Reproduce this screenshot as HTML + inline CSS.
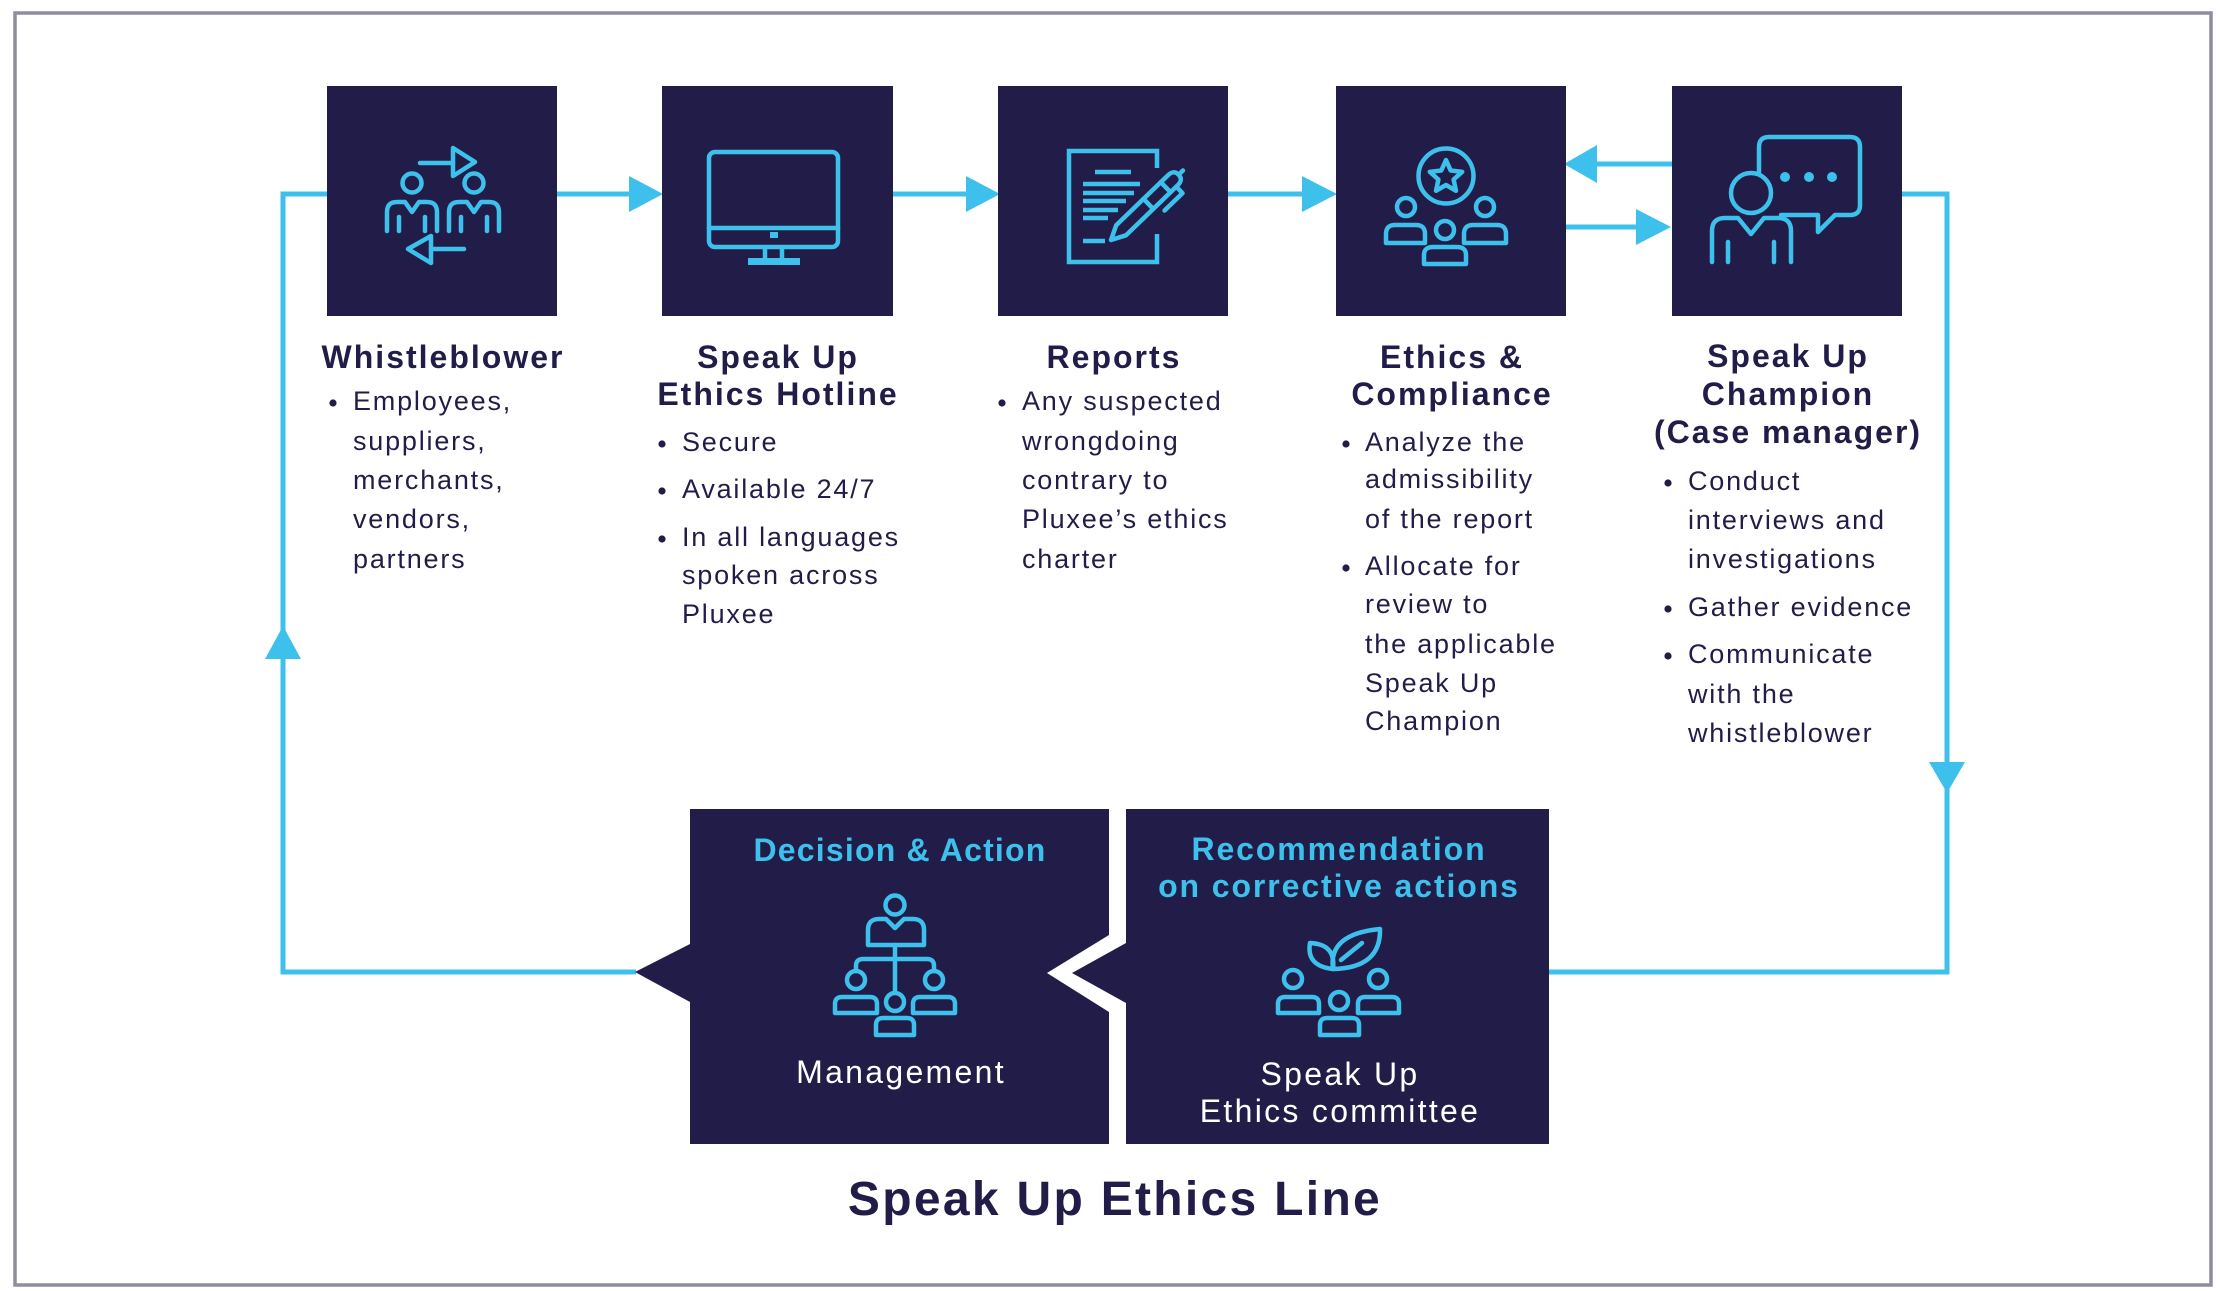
<!DOCTYPE html>
<html><head><meta charset="utf-8">
<style>
html,body{margin:0;padding:0;background:#fff;}
svg{display:block;}
text{font-family:"Liberation Sans",sans-serif;}
.h{font-weight:bold;font-size:32px;fill:#221d48;letter-spacing:2px;text-anchor:middle;}
.b{font-size:27px;fill:#221d48;letter-spacing:1.8px;}
.ic{fill:none;stroke:#3dc0ec;stroke-width:4.5;stroke-linecap:round;stroke-linejoin:round;}
.ln{fill:none;stroke:#3dc0ec;stroke-width:5;}
.ah{fill:#3dc0ec;}
.bx{fill:#221d48;}
.dot{fill:#221d48;}
.hc{font-weight:bold;font-size:32px;fill:#3dc0ec;text-anchor:middle;}
.w{font-size:32px;fill:#ffffff;letter-spacing:2.3px;text-anchor:middle;}
</style></head><body>
<svg width="2220" height="1291" viewBox="0 0 2220 1291" xmlns="http://www.w3.org/2000/svg">
<rect x="15" y="13" width="2196" height="1272" fill="#fff" stroke="#8f8d9d" stroke-width="3.5"/>

<!-- connectors -->
<polyline class="ln" points="636,972 283,972 283,194 329,194"/>
<polygon class="ah" points="265,659 301,659 283,626"/>
<polyline class="ln" points="1899,194 1947,194 1947,972 1547,972"/>
<polygon class="ah" points="1929,762 1965,762 1947,793"/>
<line class="ln" x1="555" y1="194" x2="632" y2="194"/>
<polygon class="ah" points="629,176 629,212 663,194"/>
<line class="ln" x1="891" y1="194" x2="968" y2="194"/>
<polygon class="ah" points="966,176 966,212 1000,194"/>
<line class="ln" x1="1226" y1="194" x2="1305" y2="194"/>
<polygon class="ah" points="1302,176 1302,212 1337,194"/>
<line class="ln" x1="1674" y1="164" x2="1594" y2="164"/>
<polygon class="ah" points="1597,145 1597,183 1564,164"/>
<line class="ln" x1="1564" y1="227" x2="1638" y2="227"/>
<polygon class="ah" points="1636,209 1636,245 1671,227"/>

<!-- top boxes -->
<rect class="bx" x="327" y="86" width="230" height="230"/>
<rect class="bx" x="662" y="86" width="231" height="230"/>
<rect class="bx" x="998" y="86" width="230" height="230"/>
<rect class="bx" x="1336" y="86" width="230" height="230"/>
<rect class="bx" x="1672" y="86" width="230" height="230"/>

<!-- icon 1: whistleblower -->
<g transform="translate(327,86)" class="ic">
  <line x1="93" y1="77" x2="126" y2="77"/>
  <path d="M126,62 L148,76 L126,90 Z"/>
  <line x1="137" y1="163" x2="104" y2="163"/>
  <path d="M104,150 L81,163 L104,177 Z"/>
  <circle cx="85" cy="97" r="9.5"/>
  <path d="M60,145 V126 Q60,116 70,116 H78 L85,126 L92,116 H100 Q110,116 110,126 V145"/>
  <line x1="72" y1="131" x2="72" y2="145"/>
  <line x1="98" y1="131" x2="98" y2="145"/>
  <circle cx="147" cy="97" r="9.5"/>
  <path d="M122,145 V126 Q122,116 132,116 H140 L147,126 L154,116 H162 Q172,116 172,126 V145"/>
  <line x1="134" y1="131" x2="134" y2="145"/>
  <line x1="160" y1="131" x2="160" y2="145"/>
</g>

<!-- icon 2: monitor -->
<g transform="translate(662,86)">
  <rect class="ic" x="47" y="66" width="129" height="95" rx="6"/>
  <line class="ic" x1="47" y1="142" x2="176" y2="142"/>
  <rect x="108" y="146" width="8" height="6" fill="#3dc0ec"/>
  <line class="ic" x1="103" y1="161" x2="103" y2="174" style="stroke-linecap:butt"/>
  <line class="ic" x1="120" y1="161" x2="120" y2="174" style="stroke-linecap:butt"/>
  <rect x="86" y="172" width="52" height="7" fill="#3dc0ec"/>
</g>

<!-- icon 3: report -->
<g transform="translate(998,86)">
  <path class="ic" d="M159,82 V65 H71 V176 H159 V148" style="stroke-linecap:butt;stroke-linejoin:miter"/>
  <g stroke="#3dc0ec" stroke-width="4.5">
    <line x1="97" y1="86" x2="133" y2="86"/>
    <line x1="85" y1="98" x2="142" y2="98"/>
    <line x1="85" y1="107" x2="136" y2="107"/>
    <line x1="85" y1="115" x2="128" y2="115"/>
    <line x1="85" y1="124" x2="120" y2="124"/>
    <line x1="85" y1="132" x2="110" y2="132"/>
    <line x1="85" y1="155" x2="107" y2="155"/>
  </g>
  <g transform="translate(113,154) rotate(-44)" class="ic">
    <path d="M0,0 L14,-7 H86 Q94,-7 94,0 Q94,7 86,7 H14 Z"/>
    <line x1="52" y1="-7" x2="52" y2="7"/>
    <line x1="76" y1="-7" x2="76" y2="7"/>
    <path d="M59,16 H84 V7"/>
    <line x1="94" y1="0" x2="100" y2="0"/>
  </g>
</g>

<!-- icon 4: ethics & compliance -->
<g transform="translate(1336,86)" class="ic">
  <circle cx="110" cy="90" r="27.5"/>
  <path d="M110,74 L114.7,84.5 L126.2,85.8 L117.6,93.5 L120,104.8 L110,99 L100,104.8 L102.4,93.5 L93.8,85.8 L105.3,84.5 Z"/>
  <circle cx="70" cy="121" r="9"/>
  <path d="M50,157 V148 Q50,139 59,139 H80 Q89,139 89,148 V157 Z"/>
  <circle cx="149" cy="121" r="9"/>
  <path d="M128,157 V148 Q128,139 137,139 H161 Q170,139 170,148 V157 Z"/>
  <circle cx="109" cy="144" r="9"/>
  <path d="M88,178 V169 Q88,161 97,161 H121 Q130,161 130,169 V178 Z"/>
</g>

<!-- icon 5: champion -->
<g transform="translate(1672,86)">
  <path class="ic" d="M87,87 V61 Q87,51 97,51 H178 Q188,51 188,61 V119 Q188,129 178,129 H163 L146,146 V129 H109"/>
  <circle cx="113" cy="91" r="5" fill="#3dc0ec"/>
  <circle cx="137" cy="91" r="5" fill="#3dc0ec"/>
  <circle cx="160" cy="91" r="5" fill="#3dc0ec"/>
  <circle class="ic" cx="79" cy="107" r="20"/>
  <path class="ic" d="M40,176 V145 Q40,132 53,132 H66 L79,148 L92,132 H106 Q119,132 119,145 V176"/>
  <line class="ic" x1="56" y1="156" x2="56" y2="176"/>
  <line class="ic" x1="102" y1="156" x2="102" y2="176"/>
</g>

<!-- headings -->
<text class="h" x="443" y="368">Whistleblower</text>
<text class="h" x="778" y="368">Speak Up</text>
<text class="h" x="778" y="405">Ethics Hotline</text>
<text class="h" x="1114" y="368">Reports</text>
<text class="h" x="1452" y="368">Ethics &amp;</text>
<text class="h" x="1452" y="405">Compliance</text>
<text class="h" x="1788" y="367">Speak Up</text>
<text class="h" x="1788" y="405">Champion</text>
<text class="h" x="1788" y="443">(Case manager)</text>

<!-- col1 -->
<circle class="dot" cx="333" cy="403" r="3.6"/>
<text class="b" x="353" y="410">Employees,</text>
<text class="b" x="353" y="450">suppliers,</text>
<text class="b" x="353" y="489">merchants,</text>
<text class="b" x="353" y="528">vendors,</text>
<text class="b" x="353" y="568">partners</text>

<!-- col2 -->
<circle class="dot" cx="662" cy="444" r="3.6"/>
<circle class="dot" cx="662" cy="491" r="3.6"/>
<circle class="dot" cx="662" cy="539" r="3.6"/>
<text class="b" x="682" y="451">Secure</text>
<text class="b" x="682" y="498">Available 24/7</text>
<text class="b" x="682" y="546">In all languages</text>
<text class="b" x="682" y="584">spoken across</text>
<text class="b" x="682" y="623">Pluxee</text>

<!-- col3 -->
<circle class="dot" cx="1002" cy="403" r="3.6"/>
<text class="b" x="1022" y="410">Any suspected</text>
<text class="b" x="1022" y="450">wrongdoing</text>
<text class="b" x="1022" y="489">contrary to</text>
<text class="b" x="1022" y="528">Pluxee’s ethics</text>
<text class="b" x="1022" y="568">charter</text>

<!-- col4 -->
<circle class="dot" cx="1346" cy="444" r="3.6"/>
<circle class="dot" cx="1346" cy="568" r="3.6"/>
<text class="b" x="1365" y="451">Analyze the</text>
<text class="b" x="1365" y="488">admissibility</text>
<text class="b" x="1365" y="528">of the report</text>
<text class="b" x="1365" y="575">Allocate for</text>
<text class="b" x="1365" y="613">review to</text>
<text class="b" x="1365" y="653">the applicable</text>
<text class="b" x="1365" y="692">Speak Up</text>
<text class="b" x="1365" y="730">Champion</text>

<!-- col5 -->
<circle class="dot" cx="1668" cy="483" r="3.6"/>
<circle class="dot" cx="1668" cy="609" r="3.6"/>
<circle class="dot" cx="1668" cy="656" r="3.6"/>
<text class="b" x="1688" y="490">Conduct</text>
<text class="b" x="1688" y="529">interviews and</text>
<text class="b" x="1688" y="568">investigations</text>
<text class="b" x="1688" y="616">Gather evidence</text>
<text class="b" x="1688" y="663">Communicate</text>
<text class="b" x="1688" y="703">with the</text>
<text class="b" x="1688" y="742">whistleblower</text>

<!-- bottom boxes -->
<polygon class="bx" points="690,809 1109,809 1109,935 1047,973 1109,1012 1109,1144 690,1144 690,1002 635,972 690,944"/>
<polygon class="bx" points="1126,809 1549,809 1549,1144 1126,1144 1126,1003 1072,973 1126,943"/>

<text class="hc" x="900" y="861" style="letter-spacing:1.2px">Decision &amp; Action</text>
<text class="hc" x="1339" y="860" style="letter-spacing:1.9px">Recommendation</text>
<text class="hc" x="1339" y="897" style="letter-spacing:1.9px">on corrective actions</text>

<!-- management icon -->
<g class="ic">
  <circle cx="895" cy="905" r="9.5"/>
  <path d="M868,945 V930 Q868,919 879,919 H886 L895,928 L904,919 H913 Q924,919 924,930 V945 Z"/>
  <line x1="895" y1="945" x2="895" y2="992"/>
  <path d="M856,971 V966 Q856,959 863,959 H927 Q934,959 934,966 V971"/>
  <circle cx="856" cy="980" r="9"/>
  <circle cx="934" cy="980" r="9"/>
  <circle cx="895" cy="1002" r="9"/>
  <path d="M835,1013 V1004 Q835,997 842,997 H870 Q877,997 877,1004 V1013 Z"/>
  <path d="M913,1013 V1004 Q913,997 920,997 H948 Q955,997 955,1004 V1013 Z"/>
  <path d="M876,1035 V1025 Q876,1018 883,1018 H907 Q914,1018 914,1025 V1035 Z"/>
</g>
<text class="w" x="901" y="1083">Management</text>

<!-- committee icon -->
<g class="ic">
  <path d="M1333,969 Q1306,966 1310,943 Q1336,944 1333,969 Z"/>
  <path d="M1333,969 Q1328,934 1380,929 Q1381,968 1333,969 Z"/>
  <line x1="1341" y1="960" x2="1362" y2="943"/>
  <circle cx="1293" cy="979" r="9"/>
  <path d="M1278,1013 V1004 Q1278,997 1285,997 H1312 Q1319,997 1319,1004 V1013 Z"/>
  <circle cx="1378" cy="979" r="9"/>
  <path d="M1358,1013 V1004 Q1358,997 1365,997 H1392 Q1399,997 1399,1004 V1013 Z"/>
  <circle cx="1339" cy="1001" r="9"/>
  <path d="M1320,1035 V1025 Q1320,1018 1327,1018 H1352 Q1359,1018 1359,1025 V1035 Z"/>
</g>
<text class="w" x="1340" y="1085">Speak Up</text>
<text class="w" x="1340" y="1122">Ethics committee</text>

<!-- title -->
<text x="1115" y="1215" style="font-weight:bold;font-size:48px;fill:#221d48;letter-spacing:2.3px;text-anchor:middle">Speak Up Ethics Line</text>
</svg>
</body></html>
